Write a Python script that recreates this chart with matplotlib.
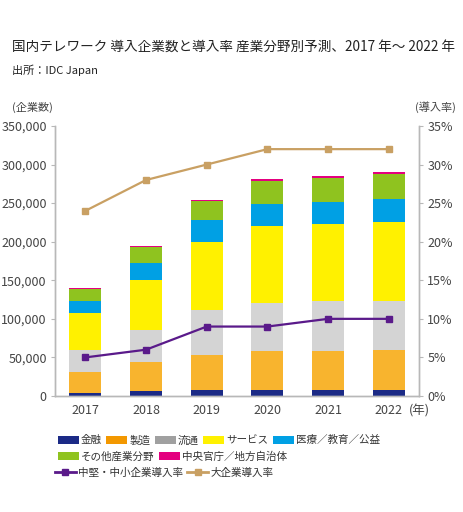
import numpy as np
import matplotlib.pyplot as plt
from matplotlib.patches import Patch
from matplotlib.lines import Line2D

plt.rcParams['font.family'] = ['Noto Sans CJK JP', 'DejaVu Sans']

years = ['2017', '2018', '2019', '2020', '2021', '2022']
segments = ['金融', '製造', '流通', 'サービス', '医療／教育／公益', 'その他産業分野', '中央官庁／地方自治体']
kinyu = [4000, 6000, 8000, 8000, 8000, 8000]
seizo = [26500, 38500, 45000, 50500, 50500, 51000]
ryutsu = [29000, 41000, 58500, 62000, 64000, 64500]
service = [48500, 65000, 88500, 100000, 100500, 102000]
iryo = [15500, 21500, 27500, 28500, 29000, 29500]
sonota = [15000, 20500, 25500, 30000, 31000, 33000]
chuo = [1500, 1700, 1700, 2200, 2200, 2100]
sme_rate = [5, 6, 9, 9, 10, 10]
large_rate = [24, 28, 30, 32, 32, 32]

bar_colors = ['#1b2a86', '#f8b42e', '#d4d4d4', '#fff100', '#00a0e4', '#8fc31f', '#e4007f']
legend_colors = ['#1b2a86', '#f39800', '#a0a0a0', '#fff100', '#00a0e4', '#8fc31f', '#e4007f']
sme_color = '#5a1a8a'
large_color = '#c9a063'

fig = plt.figure(figsize=(4.63, 5.12), dpi=100)
ax = fig.add_axes([0.1188, 0.2266, 0.7862, 0.5273])
ax2 = ax.twinx()

x = np.arange(len(years))
bottom = np.zeros(len(years))
for vals, col in zip([kinyu, seizo, ryutsu, service, iryo, sonota, chuo], bar_colors):
    ax.bar(x, vals, width=0.53, bottom=bottom, color=col, zorder=2)
    bottom += np.array(vals)

ax2.plot(x, sme_rate, color=sme_color, lw=1.6, marker='s', ms=4.8, zorder=3)
ax2.plot(x, large_rate, color=large_color, lw=1.6, marker='s', ms=4.8, zorder=3)

ax.set_xlim(-0.5, 5.5)
ax.set_ylim(0, 350000)
ax2.set_ylim(0, 35)
ax.set_yticks(np.arange(0, 350001, 50000))
ax.set_yticklabels([f'{v:,}' for v in range(0, 350001, 50000)])
ax2.set_yticks(np.arange(0, 36, 5))
ax2.set_yticklabels([f'{v}%' for v in range(0, 36, 5)])
ax.set_xticks(x)
ax.set_xticklabels(years)
ax2.set_zorder(2)

tick_col = '#444444'
spine_col = '#b8b8b8'
for a in (ax, ax2):
    a.spines['top'].set_visible(False)
    for s in ('left', 'right', 'bottom'):
        a.spines[s].set_color(spine_col)
        a.spines[s].set_linewidth(1.0)
    a.tick_params(axis='y', labelsize=9, colors=spine_col, labelcolor=tick_col, length=3, pad=3)
ax.tick_params(axis='x', labelsize=9, labelcolor=tick_col, length=0, pad=6)

fig.text(0.026, 0.908, '国内テレワーク 導入企業数と導入率 産業分野別予測、2017 年～ 2022 年',
         fontsize=9.8, color='#222222', va='center')
fig.text(0.026, 0.863, '出所：IDC Japan', fontsize=8, color='#222222', va='center')
fig.text(0.025, 0.79, '(企業数)', fontsize=8, color=tick_col, va='center')
fig.text(0.985, 0.79, '(導入率)', fontsize=8, color=tick_col, va='center', ha='right')
ax.annotate('(年)', xy=(5.5, 0), xycoords=('data', 'axes fraction'),
            xytext=(0, -10.6), textcoords='offset points', fontsize=9,
            color=tick_col, va='center', ha='center', annotation_clip=False)

patches = [Patch(facecolor=c, label=l) for c, l in zip(legend_colors, segments)]
kw = dict(frameon=False, fontsize=7.6, handlelength=2.0, handleheight=0.75,
          handletextpad=0.2, columnspacing=0.4, borderpad=0, borderaxespad=0,
          labelcolor='#333333')
leg1 = fig.legend(handles=patches[:5], ncol=5, loc='upper left',
                  bbox_to_anchor=(0.125, 0.150), **kw)
leg2 = fig.legend(handles=patches[5:], ncol=2, loc='upper left',
                  bbox_to_anchor=(0.125, 0.118), **kw)
lines = [Line2D([], [], color=sme_color, lw=2, marker='s', ms=4.5, label='中堅・中小企業導入率'),
         Line2D([], [], color=large_color, lw=2, marker='s', ms=4.5, label='大企業導入率')]
leg3 = fig.legend(handles=lines, ncol=2, loc='upper left',
                  bbox_to_anchor=(0.118, 0.087), **kw)

fig.savefig('out.png', dpi=100)
